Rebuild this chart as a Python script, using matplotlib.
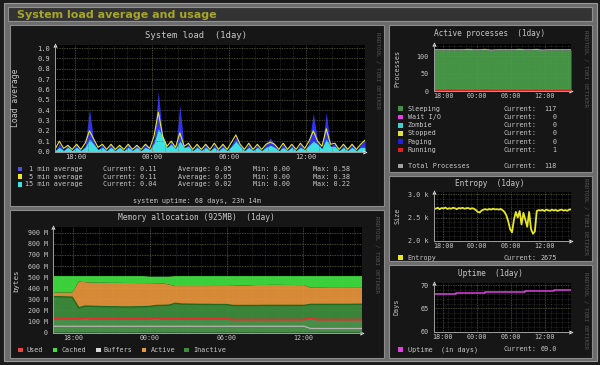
import numpy as np
import matplotlib.pyplot as plt
from matplotlib.patches import Rectangle

W, H = 600, 365
MONO = "DejaVu Sans Mono"
TXT = "#c8c8c8"

# time axis (hours, 24 = midnight)
t_start, t_end = 16.4, 40.6
hour_ticks = [18, 24, 30, 36]
hour_labels = ["18:00", "00:00", "06:00", "12:00"]

# ---- system load (20 min samples) ----
load_1min = [0.00, 0.08, 0.01, 0.07, 0.00, 0.08, 0.01, 0.06, 0.41, 0.10,
             0.01, 0.07, 0.00, 0.08, 0.01, 0.07, 0.00, 0.08, 0.01, 0.07,
             0.00, 0.08, 0.02, 0.12, 0.58, 0.14, 0.03, 0.10, 0.02, 0.45,
             0.03, 0.08, 0.00, 0.07, 0.01, 0.08, 0.00, 0.07, 0.01, 0.08,
             0.00, 0.07, 0.14, 0.06, 0.00, 0.08, 0.01, 0.07, 0.00, 0.08,
             0.13, 0.07, 0.00, 0.08, 0.01, 0.07, 0.00, 0.08, 0.01, 0.09,
             0.37, 0.10, 0.02, 0.38, 0.05, 0.08, 0.00, 0.07, 0.01, 0.08,
             0.00, 0.07, 0.11]
load_5min = [0.02, 0.10, 0.03, 0.06, 0.02, 0.07, 0.02, 0.08, 0.20, 0.12,
             0.04, 0.07, 0.02, 0.07, 0.02, 0.06, 0.02, 0.07, 0.02, 0.06,
             0.02, 0.07, 0.03, 0.15, 0.38, 0.15, 0.05, 0.10, 0.04, 0.18,
             0.05, 0.08, 0.02, 0.07, 0.02, 0.07, 0.02, 0.08, 0.02, 0.07,
             0.02, 0.09, 0.16, 0.07, 0.02, 0.08, 0.02, 0.07, 0.02, 0.07,
             0.09, 0.07, 0.02, 0.08, 0.02, 0.07, 0.02, 0.08, 0.03, 0.10,
             0.20, 0.10, 0.05, 0.22, 0.07, 0.08, 0.02, 0.07, 0.02, 0.07,
             0.02, 0.07, 0.11]
load_15min = [0.01, 0.04, 0.01, 0.04, 0.01, 0.04, 0.01, 0.04, 0.12, 0.07,
              0.02, 0.04, 0.01, 0.04, 0.01, 0.04, 0.01, 0.04, 0.01, 0.04,
              0.01, 0.04, 0.02, 0.08, 0.22, 0.14, 0.04, 0.07, 0.03, 0.10,
              0.04, 0.05, 0.01, 0.04, 0.01, 0.04, 0.01, 0.04, 0.01, 0.04,
              0.01, 0.05, 0.10, 0.05, 0.01, 0.04, 0.01, 0.04, 0.01, 0.04,
              0.06, 0.04, 0.01, 0.04, 0.01, 0.04, 0.01, 0.04, 0.02, 0.06,
              0.10, 0.07, 0.03, 0.12, 0.05, 0.05, 0.01, 0.04, 0.01, 0.04,
              0.01, 0.04, 0.04]
load_names = [" 1 min average", " 5 min average", "15 min average"]
load_current = ["0.11", "0.11", "0.04"]
load_average = ["0.05", "0.05", "0.02"]
load_min = ["0.00", "0.00", "0.00"]
load_max = ["0.58", "0.38", "0.22"]
load_colors = ["#3030f0", "#e8e830", "#40e0e0"]

# ---- memory (MB, 30 min samples) ----
mem_inactive = [325, 324, 322, 320, 225, 240, 238, 236, 235, 234, 233, 232, 232,
                233, 234, 236, 245, 246, 248, 265, 258, 257, 256, 255, 255, 254,
                254, 253, 245, 245, 245, 245, 245, 246, 246, 246, 246, 246, 246,
                246, 255, 255, 255, 255, 255, 255, 255, 256, 256]
mem_active = [35, 38, 40, 42, 235, 215, 214, 214, 215, 215, 216, 216, 216, 214,
              213, 210, 200, 198, 187, 155, 162, 163, 164, 165, 165, 167, 167,
              168, 177, 179, 181, 183, 185, 184, 185, 185, 184, 184, 183, 183,
              150, 150, 150, 149, 149, 149, 149, 148, 148]
mem_cached = [150, 148, 148, 148, 50, 55, 58, 60, 60, 61, 61, 62, 62, 63, 63,
              59, 60, 61, 70, 90, 90, 90, 90, 90, 90, 89, 89, 89, 88, 86, 84,
              82, 80, 80, 79, 79, 80, 80, 81, 81, 105, 105, 105, 106, 106, 106,
              106, 106, 106]
mem_used = [124, 124, 124, 124, 124, 132, 124, 124, 124, 124, 124, 124, 124,
            124, 124, 124, 134, 124, 124, 124, 124, 124, 124, 124, 124, 124,
            124, 124, 118, 118, 118, 118, 118, 118, 118, 118, 118, 118, 118,
            118, 132, 118, 118, 118, 118, 118, 118, 118, 118]
mem_buffers = [58, 58, 58, 58, 58, 58, 58, 58, 58, 58, 58, 58, 58, 58, 58, 58,
               58, 58, 58, 58, 58, 58, 58, 58, 58, 58, 58, 58, 58, 58, 58, 58,
               58, 58, 58, 58, 58, 58, 58, 58, 38, 38, 38, 38, 38, 38, 38, 38, 38]
mem_names = ["Used", "Cached", "Buffers", "Active", "Inactive"]
mem_colors = ["#e04848", "#40e040", "#d8d8d8", "#e89838", "#3c8c3c"]

# ---- processes (hourly) ----
proc_sleeping = [117, 117, 117, 116, 117, 117, 118, 117, 117, 117, 116, 117, 117,
                 117, 117, 118, 117, 117, 117, 116, 117, 117, 117, 117, 117]
proc_running = [1, 1, 1, 2, 1, 1, 1, 1, 1, 2, 1, 1, 1, 1, 1, 1, 1, 1, 2, 1, 1,
                1, 1, 1, 1]
proc_names = ["Sleeping", "Wait I/O", "Zombie", "Stopped", "Paging", "Running"]
proc_current = [117, 0, 0, 0, 0, 1]
proc_colors = ["#4c8c4c", "#e040e0", "#40d0d0", "#e0e040", "#2020e0", "#e02020"]
proc_total = 118

# ---- entropy (20 min samples) ----
entropy = [2700, 2690, 2710, 2680, 2705, 2695, 2715, 2685, 2700, 2690, 2710,
           2700, 2680, 2705, 2695, 2710, 2690, 2700, 2705, 2685, 2700, 2690,
           2660, 2620, 2610, 2650, 2670, 2680, 2665, 2685, 2670, 2690, 2675,
           2680, 2670, 2685, 2660, 2620, 2550, 2420, 2250, 2180, 2450, 2620,
           2500, 2640, 2350, 2600, 2450, 2300, 2620, 2250, 2150, 2200, 2640,
           2660, 2650, 2665, 2640, 2670, 2655, 2645, 2670, 2650, 2665, 2640,
           2660, 2670, 2650, 2660, 2645, 2670, 2675]
entropy_current = 2675

# ---- uptime (hourly, days) ----
uptime_days = [68.0, 68.0, 68.1, 68.1, 68.2, 68.2, 68.3, 68.3, 68.3, 68.4,
               68.4, 68.5, 68.5, 68.5, 68.6, 68.6, 68.7, 68.7, 68.7, 68.8,
               68.8, 68.9, 68.9, 68.9, 69.0]
uptime_current = "69.0"

fig = plt.figure(figsize=(6, 3.65), dpi=100, facecolor="#1c1c1c")


def box(x, y, w, h):
    return [x / W, 1 - (y + h) / H, w / W, h / H]


def rect(x, y, w, h, fc, ec="none", lw=0.0, z=-10):
    fig.patches.append(Rectangle((x / W, 1 - (y + h) / H), w / W, h / H,
                                 transform=fig.transFigure, facecolor=fc,
                                 edgecolor=ec, linewidth=lw, zorder=z))


def text(x, y, s, size=4.9, color=TXT, **kw):
    kw.setdefault("family", MONO)
    kw.setdefault("va", "center")
    fig.text(x / W, 1 - y / H, s, fontsize=size, color=color, **kw)


def graph(x0, x1, ytop, ybot, ylim, yticks, ylabels, yminor, fsize, below=False):
    ax = fig.add_axes(box(x0, ytop, x1 - x0, ybot - ytop))
    ax.set_facecolor("black")
    ax.set_xlim(t_start, t_end)
    ax.set_ylim(*ylim)
    ax.set_xticks(hour_ticks, hour_labels)
    ax.set_xticks(np.arange(17, 41), minor=True)
    ax.set_yticks(yticks, ylabels)
    if yminor is not None:
        ax.set_yticks(yminor, minor=True)
    ax.set_axisbelow(below)
    ax.grid(which="minor", color="#4a4a4a", lw=0.5, ls=(0, (1, 1)), alpha=0.7)
    ax.grid(which="major", color="#6a6a48", lw=0.6, ls=(0, (1, 1)), alpha=0.9)
    ax.tick_params(which="both", length=0, colors=TXT, labelsize=fsize)
    ax.tick_params(axis="y", pad=3.6)
    ax.tick_params(axis="x", pad=1.5)
    for lab in ax.get_xticklabels() + ax.get_yticklabels():
        lab.set_family(MONO)
    for s in ["top", "right"]:
        ax.spines[s].set_visible(False)
    for s in ["left", "bottom"]:
        ax.spines[s].set_color("#a0a0a0")
        ax.spines[s].set_linewidth(0.7)
        ax.spines[s].set_zorder(4)
    ax.plot([1.0], [0], marker=">", ms=3, color="#e8e8e8", mew=0,
            transform=ax.transAxes, clip_on=False)
    ax.plot([0], [1.0], marker="^", ms=3, color="#e8e8e8", mew=0,
            transform=ax.transAxes, clip_on=False)
    return ax


# ---- page frame ----
rect(4, 3, 593, 358, "#6c6c6c", ec="#9a9a9a", lw=0.8, z=-20)
rect(7.5, 7.5, 584, 13.5, "#333333", ec="#909090", lw=0.8)
text(17, 14.5, "System load average and usage", size=8, color="#a6a62a",
     family="DejaVu Sans", weight="bold")

panels = [(10, 25, 373.5, 181.5), (10, 210, 373.5, 147.5),
          (389, 25, 202.5, 146.5), (389, 175.5, 202.5, 85.5),
          (389, 265, 202.5, 92.5)]
for px, py, pw, ph in panels:
    rect(px, py, pw, ph, "#161616", ec="#8c8c8c", lw=0.8)

for wx, wy in [(378, 70), (377, 255), (586, 68), (586, 216), (586, 310)]:
    text(wx, wy, "RRDTOOL / TOBI OETIKER", size=4.2, color="#555555",
         rotation=270, ha="center")

# ---- system load ----
ax = graph(55, 365, 45, 151.5, (0, 1.029), np.round(np.arange(0, 1.01, 0.1), 1),
           [f"{v:.1f}" for v in np.arange(0, 1.01, 0.1)], None, 5)
x_load = np.linspace(t_start, t_end, len(load_1min))
ax.fill_between(x_load, load_1min, color=load_colors[0], lw=0, zorder=1)
ax.fill_between(x_load, load_15min, color=load_colors[2], lw=0, zorder=1.1)
ax.plot(x_load, load_5min, color=load_colors[1], lw=0.8, zorder=3)
text(196, 35, "System load  (1day)", size=6.4, ha="center")
text(15, 98, "Load average", size=5.8, rotation=90, ha="center")
for i, name in enumerate(load_names):
    yy = 169 + i * 7.7
    rect(17.5, yy - 2.5, 4.8, 4.8, load_colors[i] if i else "#5050e0", z=5)
    text(25, yy, name)
    text(102.7, yy, "Current: " + load_current[i])
    text(178.3, yy, "Average: " + load_average[i])
    text(253.3, yy, "Min: " + load_min[i])
    text(312.7, yy, "Max: " + load_max[i])
text(197, 201, "system uptime: 68 days, 23h 14m", ha="center")

# ---- memory ----
ax = graph(53, 362, 227, 332.7, (0, 952), list(range(0, 901, 100)),
           ["0"] + [f"{v} M" for v in range(100, 901, 100)], None, 4.8,
           below=True)
x_mem = np.linspace(t_start, t_end, len(mem_inactive))
ax.stackplot(x_mem, mem_inactive, mem_active, mem_cached,
             colors=["#3f8f3f", "#e8963c", "#40e040"], lw=0, alpha=0.93,
             zorder=2)
ax.fill_between(x_mem, mem_used, color="white", alpha=0.07, lw=0, zorder=2.1)
ax.plot(x_mem, mem_inactive, color="#1f6a1f", lw=1.0, zorder=3)
ax.plot(x_mem, mem_used, color="#e03030", lw=1.4, zorder=3)
ax.plot(x_mem, mem_buffers, color="#b4b4b4", lw=0.9, zorder=3)
text(196, 218, "Memory allocation (925MB)  (1day)", size=5.7, ha="center")
text(16, 281, "bytes", size=5.3, rotation=90, ha="center")
for (sx, tx), name, col in zip([(18.3, 26.7), (52.7, 61.7), (96, 104),
                                 (141.7, 150.7), (184.3, 193.3)],
                                mem_names, mem_colors):
    rect(sx, 347.6, 4.6, 4.6, col, z=5)
    text(tx, 350, name)

# ---- active processes ----
ax = graph(434, 571, 43.5, 91, (0, 136), [0, 50, 100], ["0", "50", "100"],
           list(range(0, 131, 10)), 4.9, below=True)
x_proc = np.linspace(t_start, t_end, len(proc_sleeping))
total = np.array(proc_sleeping) + np.array(proc_running)
ax.fill_between(x_proc, total, color="#4a9e4a", lw=0, alpha=0.93, zorder=2)
ax.plot(x_proc, total, color="#a8a8a8", lw=0.9, zorder=3)
ax.plot(x_proc, proc_running, color="#e02020", lw=1.4, zorder=3)
text(490, 34, "Active processes  (1day)", size=5.6, ha="center")
text(397, 68.5, "Processes", size=4.9, rotation=90, ha="center")
for i, name in enumerate(proc_names):
    yy = 108.7 + i * 8.26
    rect(398.3, yy - 2.3, 4.6, 4.6, proc_colors[i], z=5)
    text(407.7, yy, name)
    text(504, yy, "Current:")
    text(556.7, yy, str(proc_current[i]), ha="right")
rect(398.3, 163.7, 4.6, 4.6, "#a0a0a0", z=5)
text(407.7, 166, "Total Processes")
text(504, 166, "Current:")
text(556.7, 166, str(proc_total), ha="right")

# ---- entropy ----
ax = graph(434, 571, 192, 240.7, (2000, 3050), [2000, 2500, 3000],
           ["2.0 k", "2.5 k", "3.0 k"], list(range(2000, 3001, 100)), 4.9)
x_ent = np.linspace(t_start, t_end, len(entropy))
ax.plot(x_ent, entropy, color="#e8e820", lw=1.3, zorder=3)
text(490, 183.3, "Entropy  (1day)", size=5.6, ha="center")
text(397, 216, "Size", size=4.9, rotation=90, ha="center")
rect(398.3, 255.4, 4.6, 4.6, "#e8e820", z=5)
text(407.7, 257.7, "Entropy")
text(504, 257.7, "Current:")
text(556.7, 257.7, str(entropy_current), ha="right")

# ---- uptime ----
ax = graph(433.5, 571, 283, 331.7, (60, 70.43), [60, 65, 70], ["60", "65", "70"],
           list(range(60, 71)), 4.9)
x_up = np.linspace(t_start, t_end, len(uptime_days))
ax.plot(x_up, uptime_days, color="#e040e0", lw=1.1, drawstyle="steps-post",
        zorder=3)
text(490, 274, "Uptime  (1day)", size=5.6, ha="center")
text(397, 307, "Days", size=4.9, rotation=90, ha="center")
rect(398.3, 347, 4.6, 4.6, "#e040e0", z=5)
text(407.7, 349.3, "Uptime  (in days)")
text(504, 349.3, "Current:")
text(556.7, 349.3, uptime_current, ha="right")

fig.savefig("out.png", dpi=100, facecolor=fig.get_facecolor())
